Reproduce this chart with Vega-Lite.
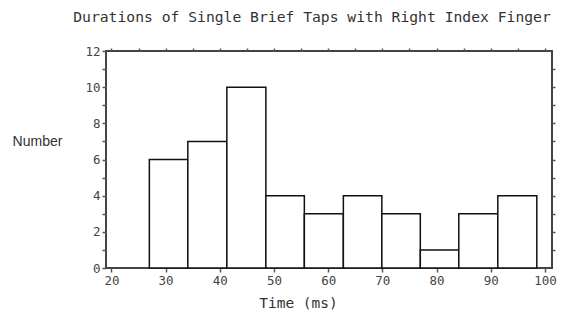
{
  "$schema": "https://vega.github.io/schema/vega-lite/v6.json",
  "autosize": "none",
  "width": 446,
  "height": 217,
  "padding": {"left": 106, "top": 51, "right": 13, "bottom": 48},
  "background": "white",
  "title": {
    "text": "Durations of Single Brief Taps with Right Index Finger",
    "font": "DejaVu Sans Mono",
    "fontSize": 14.7,
    "fontWeight": "normal",
    "color": "#333",
    "anchor": "middle",
    "dx": -17,
    "offset": 20
  },
  "config": {
    "view": {"stroke": "#444", "strokeWidth": 2},
    "axis": {
      "labelFont": "DejaVu Sans Mono",
      "labelFontSize": 12.5,
      "labelColor": "#444",
      "titleFont": "DejaVu Sans Mono",
      "titleFontWeight": "normal",
      "titleColor": "#333",
      "grid": false,
      "domain": false,
      "tickColor": "#555",
      "tickWidth": 1.5
    }
  },
  "data": {
    "values": [
      {"start": 27.0, "end": 34.1, "count": 6},
      {"start": 34.1, "end": 41.3, "count": 7},
      {"start": 41.3, "end": 48.5, "count": 10},
      {"start": 48.5, "end": 55.6, "count": 4},
      {"start": 55.6, "end": 62.8, "count": 3},
      {"start": 62.8, "end": 69.9, "count": 4},
      {"start": 69.9, "end": 77.0, "count": 3},
      {"start": 77.0, "end": 84.1, "count": 1},
      {"start": 84.1, "end": 91.3, "count": 3},
      {"start": 91.3, "end": 98.5, "count": 4}
    ]
  },
  "layer": [
    {
      "mark": {"type": "rect", "fill": "white", "stroke": "#111", "strokeWidth": 1.5},
      "encoding": {
        "x": {
          "field": "start", "type": "quantitative",
          "scale": {"domain": [19, 101.3], "nice": false, "zero": false},
          "axis": {
            "orient": "bottom",
            "values": [20, 30, 40, 50, 60, 70, 80, 90, 100],
            "tickSize": 4,
            "labelPadding": 2,
            "title": "Time (ms)",
            "titleFontSize": 14.5,
            "titleX": 192,
            "titleY": 35,
            "titleBaseline": "middle"
          }
        },
        "x2": {"field": "end"},
        "y": {
          "field": "count", "type": "quantitative",
          "scale": {"domain": [0, 12], "nice": false},
          "axis": {
            "orient": "left",
            "values": [0, 1, 2, 3, 4, 5, 6, 7, 8, 9, 10, 11, 12],
            "labelExpr": "datum.value % 2 == 0 ? datum.label : ''",
            "tickSize": 4,
            "labelPadding": 2,
            "title": "Number",
            "titleFont": "Liberation Sans",
            "titleFontSize": 14,
            "titleAngle": 0,
            "titleAlign": "center",
            "titleBaseline": "middle",
            "titleX": -69,
            "titleY": 90
          }
        },
        "y2": {"datum": 0}
      }
    },
    {
      "mark": {"type": "rect", "opacity": 0},
      "encoding": {
        "x": {
          "field": "start", "type": "quantitative",
          "axis": {
            "orient": "top",
            "values": [20, 25, 30, 35, 40, 45, 50, 55, 60, 65, 70, 75, 80, 85, 90, 95, 100],
            "labels": false,
            "tickSize": 3,
            "title": null
          }
        },
        "x2": {"field": "end"},
        "y": {
          "field": "count", "type": "quantitative",
          "axis": {
            "orient": "right",
            "values": [1, 2, 3, 4, 5, 6, 7, 8, 9, 10, 11],
            "labels": false,
            "tickSize": 3,
            "title": null
          }
        },
        "y2": {"datum": 0}
      }
    }
  ]
}
